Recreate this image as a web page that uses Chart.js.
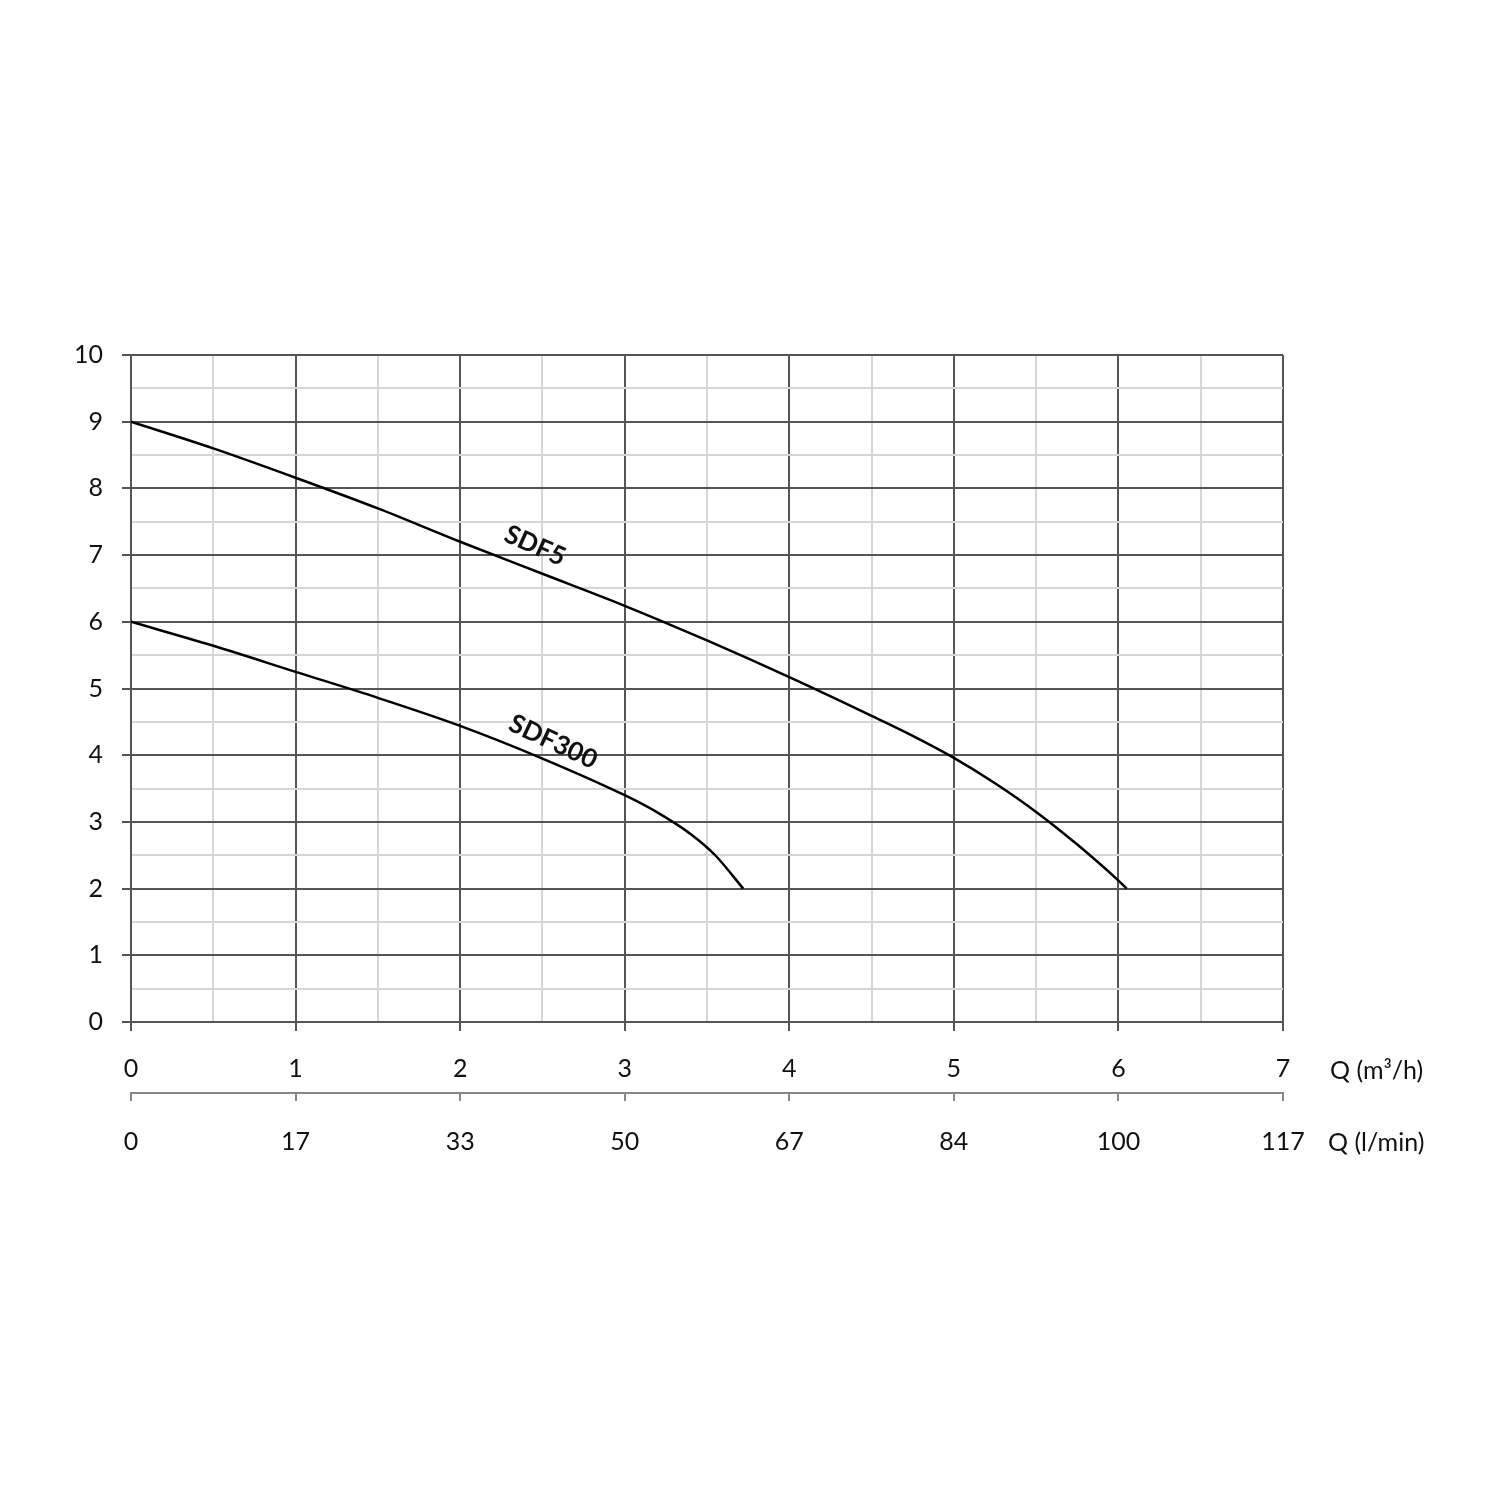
<!DOCTYPE html>
<html>
<head>
  <meta charset="UTF-8">
  <title>SDF curves</title>
  <script src="https://cdn.jsdelivr.net/npm/chart.js"></script>
  <style>
    body { margin: 0; background: #fff; }
    canvas { display: block; }
  </style>
</head>
<body>
  <canvas id="myChart" width="1500" height="1500"></canvas>

  <script>
    // values
    const sdf5Q = [0, 0.5, 1, 1.5, 2, 2.5, 3, 3.5, 4, 4.5, 4.75, 5, 5.25, 5.5, 5.75, 6, 6.05];
    const sdf5H = [9, 8.6, 8.16, 7.7, 7.2, 6.72, 6.24, 5.72, 5.17, 4.59, 4.29, 3.96, 3.58, 3.15, 2.66, 2.12, 2];
    const sdf300Q = [0, 0.5, 1, 1.5, 2, 2.5, 3, 3.2, 3.4, 3.55, 3.72];
    const sdf300H = [6, 5.64, 5.25, 4.86, 4.44, 3.95, 3.4, 3.14, 2.82, 2.5, 2];
    const lminLabels = ['0', '17', '33', '50', '67', '84', '100', '117'];
    const curveNames = ['SDF5', 'SDF300'];

    const FONT = 'Lato, "Open Sans", sans-serif';
    const isMajor = v => Math.abs(v - Math.round(v)) < 1e-9;

    // curve names and axis titles drawn as text next to the scales
    const textPlugin = {
      id: 'texts',
      afterDraw(chart) {
        const c = chart.ctx;
        const x = chart.scales.x, y = chart.scales.y, x2 = chart.scales.x2;
        c.save();
        c.fillStyle = '#111';
        c.font = 'bold 26px ' + FONT;
        c.textAlign = 'center';
        c.textBaseline = 'middle';
        const spots = [[2.455, 7.14, 24], [2.565, 4.2, 25]];
        curveNames.forEach((name, i) => {
          const [q, h, a] = spots[i];
          c.save();
          c.translate(x.getPixelForValue(q), y.getPixelForValue(h));
          c.rotate(a * Math.PI / 180);
          c.fillText(name, 0, 0);
          c.restore();
        });
        c.font = '25px ' + FONT;
        c.textAlign = 'left';
        c.fillText('Q (m³/h)', x.right + 47, x.top + 49);
        c.fillText('Q (l/min)', x2.right + 45, x2.top + 50);
        c.restore();
      }
    };

    const ctx = document.getElementById('myChart').getContext('2d');

    const lineStyle = {
      borderColor: '#000',
      borderWidth: 2.5,
      pointRadius: 0,
      cubicInterpolationMode: 'monotone'
    };

    new Chart(ctx, {
      type: 'line',
      data: {
        datasets: [{
          label: curveNames[0],
          data: sdf5Q.map((q, i) => ({ x: q, y: sdf5H[i] })),
          ...lineStyle
        }, {
          label: curveNames[1],
          data: sdf300Q.map((q, i) => ({ x: q, y: sdf300H[i] })),
          ...lineStyle
        }]
      },
      options: {
        responsive: false,
        animation: false,
        layout: { padding: { left: 40, top: 355, right: 217, bottom: 322 } },
        plugins: {
          legend: { display: false },
          tooltip: { enabled: false }
        },
        scales: {
          x: {
            type: 'linear',
            position: 'bottom',
            min: 0,
            max: 7,
            afterFit: s => { s.height = 71; },
            ticks: {
              stepSize: 0.5,
              autoSkip: false,
              maxRotation: 0,
              padding: 23,
              color: '#111',
              font: { family: FONT, size: 25 },
              callback: v => isMajor(v) ? v : ''
            },
            grid: {
              lineWidth: 2,
              tickLength: 9,
              color: c => isMajor(c.tick.value) ? '#555' : '#d6d6d6',
              tickColor: c => isMajor(c.tick.value) ? '#555' : 'rgba(0,0,0,0)'
            },
            border: { color: '#555', width: 2 }
          },
          x2: {
            type: 'linear',
            position: 'bottom',
            min: 0,
            max: 7,
            afterFit: s => { s.height = 85; },
            ticks: {
              stepSize: 1,
              autoSkip: false,
              maxRotation: 0,
              padding: 26,
              color: '#111',
              font: { family: FONT, size: 25 },
              callback: (v, i) => lminLabels[i]
            },
            grid: {
              drawOnChartArea: false,
              lineWidth: 2,
              tickLength: 8,
              color: '#888'
            },
            border: { color: '#888', width: 2 }
          },
          y: {
            min: 0,
            max: 10,
            afterFit: s => { s.width = 91; },
            ticks: {
              stepSize: 0.5,
              autoSkip: false,
              padding: 19,
              color: '#111',
              font: { family: FONT, size: 25 },
              callback: v => isMajor(v) ? v : ''
            },
            grid: {
              lineWidth: 2,
              tickLength: 9,
              color: c => isMajor(c.tick.value) ? '#555' : '#d6d6d6',
              tickColor: c => isMajor(c.tick.value) ? '#555' : 'rgba(0,0,0,0)'
            },
            border: { color: '#555', width: 2 }
          }
        }
      },
      plugins: [textPlugin]
    });
  </script>
</body>
</html>
